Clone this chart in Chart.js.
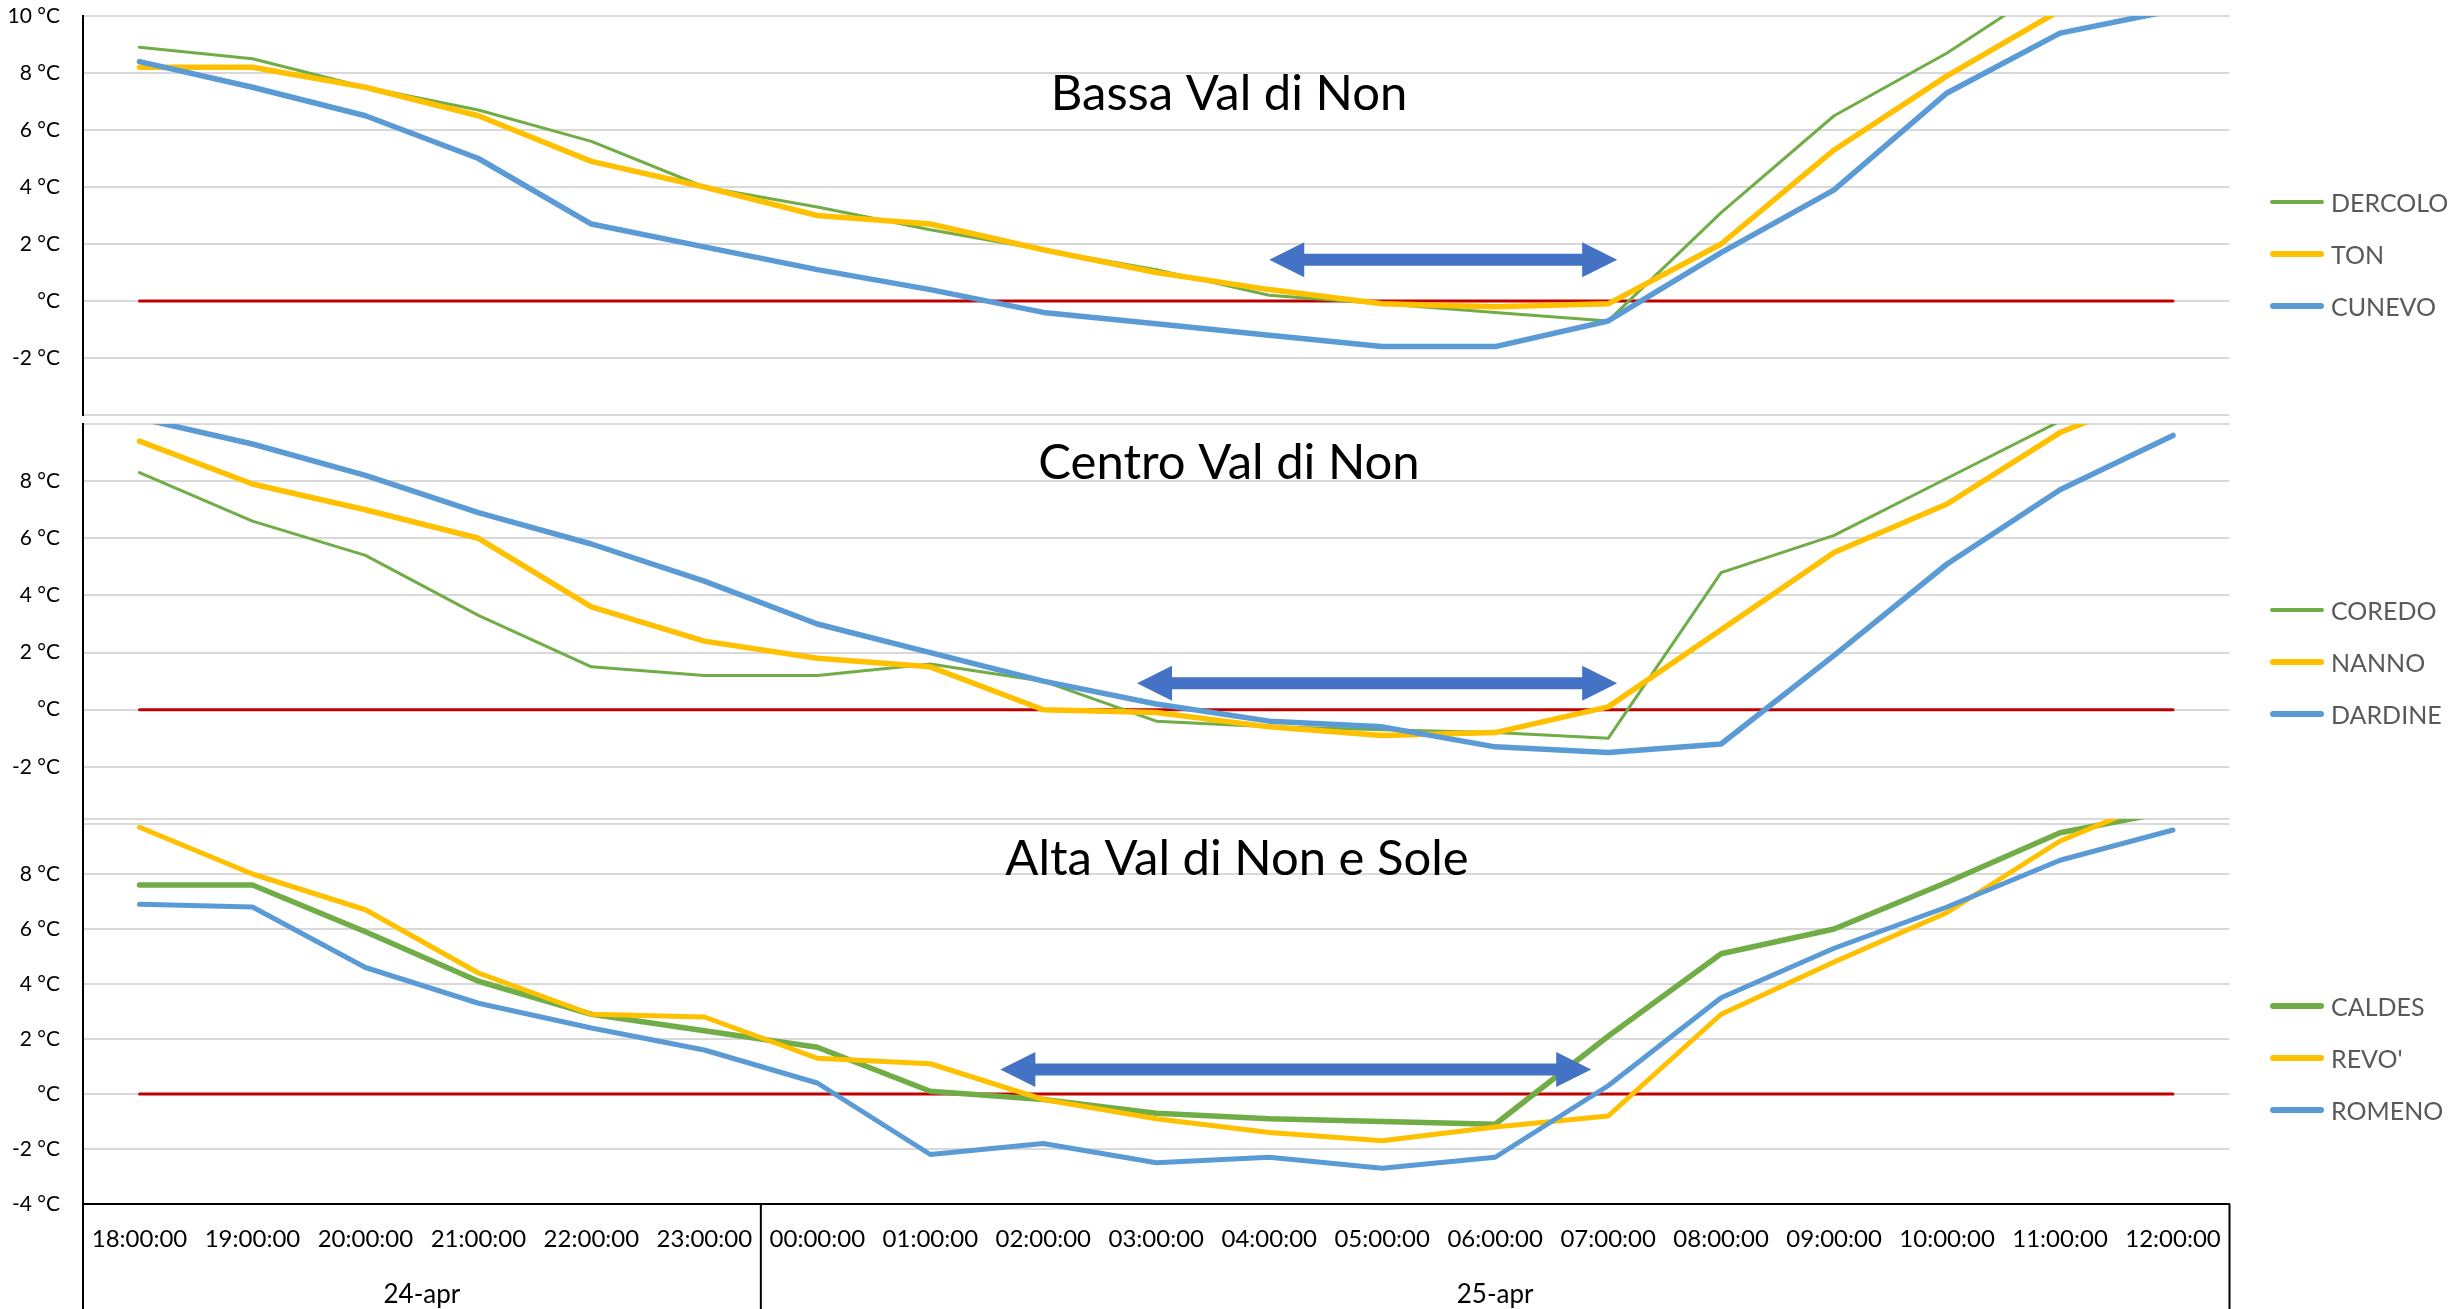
<!DOCTYPE html>
<html>
<head>
<meta charset="utf-8">
<title>Temperature notte 24-25 aprile</title>
<script src="https://cdn.jsdelivr.net/npm/chart.js@4.4.1/dist/chart.umd.min.js"></script>
<style>
  body { margin: 0; background: #fff; }
  #wrap { position: relative; width: 2464px; height: 1309px; overflow: hidden; background: #fff; }
  #wrap canvas { position: absolute; left: 0; }
  .leg-item { position: absolute; left: 2270px; display: flex; align-items: center; transform: translateY(-50%);
              font-family: Lato, sans-serif; font-size: 25px; color: #595959; white-space: nowrap; }
  .leg-line { display: inline-block; width: 54px; border-radius: 3px; margin-right: 7px; }
</style>
</head>
<body>
<div id="wrap">
  <canvas id="c1" width="2464" height="440" style="top:0px"></canvas>
  <canvas id="c2" width="2464" height="440" style="top:400px"></canvas>
  <canvas id="c3" width="2464" height="509" style="top:800px"></canvas>
</div>
<script>
// Categories (hourly readings, night between 24 and 25 April)
const hours = ['18:00:00', '19:00:00', '20:00:00', '21:00:00', '22:00:00', '23:00:00',
               '00:00:00', '01:00:00', '02:00:00', '03:00:00', '04:00:00', '05:00:00',
               '06:00:00', '07:00:00', '08:00:00', '09:00:00', '10:00:00', '11:00:00', '12:00:00'];
const days = ['24-apr', '25-apr'];
const hoursPerDay = [6, 13];

// 0 °C reference line
const zeroLine = [0, 0, 0, 0, 0, 0, 0, 0, 0, 0, 0, 0, 0, 0, 0, 0, 0, 0, 0];

// Bassa Val di Non
const dercolo = [8.9, 8.5, 7.5, 6.7, 5.6, 4.0, 3.3, 2.5, 1.8, 1.1, 0.2, -0.1, -0.4, -0.7, 3.1, 6.5, 8.7, 11.3, 12.6];
const ton     = [8.2, 8.2, 7.5, 6.5, 4.9, 4.0, 3.0, 2.7, 1.8, 1.0, 0.4, -0.1, -0.2, -0.1, 2.0, 5.3, 7.9, 10.2, 11.9];
const cunevo  = [8.4, 7.5, 6.5, 5.0, 2.7, 1.9, 1.1, 0.4, -0.4, -0.8, -1.2, -1.6, -1.6, -0.7, 1.7, 3.9, 7.3, 9.4, 10.2];

// Centro Val di Non
const coredo  = [8.3, 6.6, 5.4, 3.3, 1.5, 1.2, 1.2, 1.6, 1.0, -0.4, -0.6, -0.7, -0.8, -1.0, 4.8, 6.1, 8.1, 10.1, 11.4];
const nanno   = [9.4, 7.9, 7.0, 6.0, 3.6, 2.4, 1.8, 1.5, 0.0, -0.1, -0.6, -0.9, -0.8, 0.1, 2.8, 5.5, 7.2, 9.7, 11.3];
const dardine = [10.2, 9.3, 8.2, 6.9, 5.8, 4.5, 3.0, 2.0, 1.0, 0.2, -0.4, -0.6, -1.3, -1.5, -1.2, 1.9, 5.1, 7.7, 9.6];

// Alta Val di Non e Sole
const caldes  = [7.6, 7.6, 5.9, 4.1, 2.9, 2.3, 1.7, 0.1, -0.2, -0.7, -0.9, -1.0, -1.1, 2.1, 5.1, 6.0, 7.7, 9.5, 10.3];
const revo    = [9.7, 8.0, 6.7, 4.4, 2.9, 2.8, 1.3, 1.1, -0.2, -0.9, -1.4, -1.7, -1.2, -0.8, 2.9, 4.8, 6.6, 9.2, 10.9];
const romeno  = [6.9, 6.8, 4.6, 3.3, 2.4, 1.6, 0.4, -2.2, -1.8, -2.5, -2.3, -2.7, -2.3, 0.3, 3.5, 5.3, 6.8, 8.5, 9.6];

const GREEN = '#70AD47', GOLD = '#FFC000', BLUE = '#5B9BD5', RED = '#C00000', ARROW = '#4472C4';
const FONT = 'Lato, "Noto Sans", sans-serif';
const PLOT_RIGHT = 2229.5;

// Draws the frost-period arrow, the panel title and (bottom panel) the date row
const decor = {
    id: 'decor',
    afterDatasetsDraw(chart, args, opts) {
        const a = opts.arrow;
        if (!a) return;
        const { ctx, scales: { x, y } } = chart;
        const x0 = x.getPixelForValue(a.from);
        const x1 = x.getPixelForValue(a.to);
        const yc = y.getPixelForValue(a.level);
        const sh = 6, hh = 17.5, hl = 35;
        ctx.save();
        ctx.fillStyle = ARROW;
        ctx.beginPath();
        ctx.moveTo(x0, yc);
        ctx.lineTo(x0 + hl, yc - hh);
        ctx.lineTo(x0 + hl, yc - sh);
        ctx.lineTo(x1 - hl, yc - sh);
        ctx.lineTo(x1 - hl, yc - hh);
        ctx.lineTo(x1, yc);
        ctx.lineTo(x1 - hl, yc + hh);
        ctx.lineTo(x1 - hl, yc + sh);
        ctx.lineTo(x0 + hl, yc + sh);
        ctx.lineTo(x0 + hl, yc + hh);
        ctx.closePath();
        ctx.fill();
        ctx.restore();
    },
    afterDraw(chart, args, opts) {
        const { ctx, chartArea } = chart;
        ctx.save();
        if (opts.title) {
            ctx.fillStyle = '#000';
            ctx.font = '49px ' + FONT;
            ctx.textAlign = 'center';
            ctx.textBaseline = 'alphabetic';
            ctx.fillText(opts.title, opts.titleX, opts.titleBaseline);
        }
        if (opts.groups) {
            const x = chart.scales.x;
            const bottom = chart.height;
            ctx.strokeStyle = '#000';
            ctx.lineWidth = 2;
            ctx.fillStyle = '#000';
            ctx.font = '26px ' + FONT;
            ctx.textAlign = 'center';
            let start = 0;
            const edges = [x.getPixelForValue(-0.5)];
            opts.groups.spans.forEach((n, i) => {
                const left = x.getPixelForValue(start - 0.5);
                const right = x.getPixelForValue(start + n - 0.5);
                edges.push(right);
                ctx.fillText(opts.groups.labels[i], (left + right) / 2, opts.groups.baseline);
                start += n;
            });
            ctx.beginPath();
            edges.forEach(px => {
                ctx.moveTo(px, chartArea.bottom);
                ctx.lineTo(px, bottom);
            });
            ctx.stroke();
        }
        ctx.restore();
    }
};

function line(label, data, color, width, order) {
    return {
        label, data,
        borderColor: color, backgroundColor: color,
        borderWidth: width, pointRadius: 0, tension: 0,
        borderCapStyle: 'round', borderJoinStyle: 'round',
        clip: 0, order
    };
}

function makePanel(id, p) {
    const datasets = [
        line('zero', zeroLine, RED, 3, 4),
        line(p.names[0], p.series[0], GREEN, p.widths[0], 3),
        line(p.names[1], p.series[1], GOLD, p.widths[1], 2),
        line(p.names[2], p.series[2], BLUE, p.widths[2], 1)
    ];
    const canvas = document.getElementById(id);
    const top = canvas.offsetTop;
    const xScale = {
        type: 'category',
        offset: true,
        display: p.showX,
        grid: { display: false, drawTicks: false },
        border: { display: true, color: '#000', width: 2 },
        ticks: { color: '#000', padding: 21, maxRotation: 0, autoSkip: false, font: { family: FONT, size: 24 } }
    };
    if (p.showX) {
        xScale.afterFit = s => { s.height = 105; };
    }
    new Chart(canvas, {
        type: 'line',
        data: { labels: hours, datasets },
        options: {
            responsive: false,
            animation: false,
            events: [],
            layout: { padding: { top: p.padTop, bottom: p.padBottom, left: 0, right: 2464 - PLOT_RIGHT } },
            plugins: {
                legend: { display: false },
                tooltip: { enabled: false },
                decor: {
                    arrow: p.arrow,
                    title: p.title,
                    titleX: p.titleX,
                    titleBaseline: p.titleBaseline - top,
                    groups: p.showX ? { labels: days, spans: hoursPerDay, baseline: 1303 - top } : null
                }
            },
            scales: {
                x: xScale,
                y: {
                    min: -4, max: 10,
                    grid: { color: '#D9D9D9', lineWidth: 2, drawTicks: false },
                    border: { display: true, color: '#000', width: 2 },
                    ticks: {
                        stepSize: 2, padding: 23, color: '#000',
                        font: { family: FONT, size: 21 },
                        callback: v => p.hideTicks.includes(v) ? '' : (v === 0 ? '°C' : v + ' °C')
                    },
                    afterFit: s => {
                        s.width = 83;
                        s.paddingTop = 0;
                        s.paddingBottom = 0;
                    }
                }
            }
        },
        plugins: [decor]
    });

    // legend on the right of each panel
    const colors = [GREEN, GOLD, BLUE];
    p.names.forEach((name, i) => {
        const item = document.createElement('div');
        item.className = 'leg-item';
        item.style.top = (p.legendMid + (i - 1) * 52) + 'px';
        item.innerHTML = `<span class="leg-line" style="height:${p.legendWidths[i]}px;background:${colors[i]}"></span>${name}`;
        document.getElementById('wrap').appendChild(item);
    });
}

function build() {
    makePanel('c1', {
        title: 'Bassa Val di Non', titleX: 1229, titleBaseline: 110,
        names: ['DERCOLO', 'TON', 'CUNEVO'], series: [dercolo, ton, cunevo],
        widths: [3, 5.5, 5.5], legendWidths: [4, 6, 6], legendMid: 254,
        arrow: { from: 10.0, to: 13.08, level: 1.45 },
        padTop: 16, padBottom: 25, showX: false, hideTicks: [-4]
    });
    makePanel('c2', {
        title: 'Centro Val di Non', titleX: 1229, titleBaseline: 479,
        names: ['COREDO', 'NANNO', 'DARDINE'], series: [coredo, nanno, dardine],
        widths: [3, 5.5, 5.5], legendWidths: [4, 6, 6], legendMid: 662,
        arrow: { from: 8.83, to: 13.08, level: 0.93 },
        padTop: 24, padBottom: 16, showX: false, hideTicks: [10, -4]
    });
    makePanel('c3', {
        title: 'Alta Val di Non e Sole', titleX: 1237, titleBaseline: 875,
        names: ['CALDES', "REVO'", 'ROMENO'], series: [caldes, revo, romeno],
        widths: [5.5, 5, 5], legendWidths: [6, 6, 6], legendMid: 1058,
        arrow: { from: 7.62, to: 12.85, level: 0.89 },
        padTop: 19, padBottom: 0, showX: true, hideTicks: [10]
    });
}

if (document.fonts && document.fonts.load) {
    Promise.all(['21px Lato', '24px Lato', '26px Lato', '49px Lato'].map(f => document.fonts.load(f)))
        .then(build, build);
} else {
    build();
}
</script>
</body>
</html>
